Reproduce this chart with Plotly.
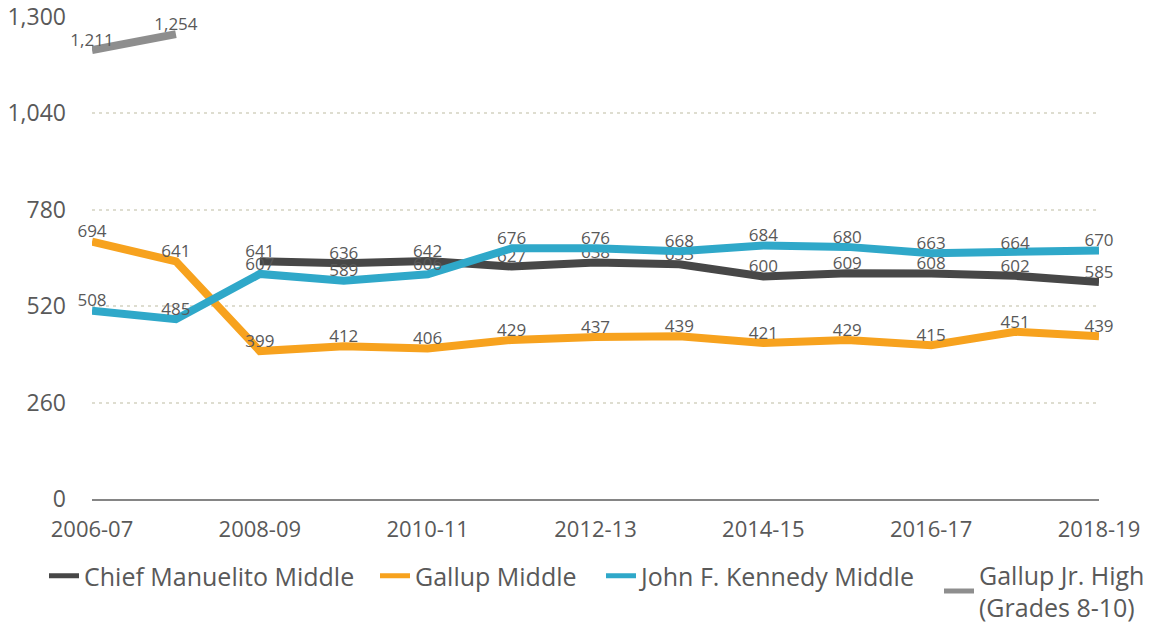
import plotly.graph_objects as go

years = ["2006-07", "2007-08", "2008-09", "2009-10", "2010-11", "2011-12", "2012-13",
         "2013-14", "2014-15", "2015-16", "2016-17", "2017-18", "2018-19"]
chief = [None, None, 641, 636, 642, 627, 638, 633, 600, 609, 608, 602, 585]
gallup_mid = [694, 641, 399, 412, 406, 429, 437, 439, 421, 429, 415, 451, 439]
jfk = [508, 485, 607, 589, 606, 676, 676, 668, 684, 680, 663, 664, 670]
gallup_jr = [1211, 1254, None, None, None, None, None, None, None, None, None, None, None]

x_ticks = ["2006-07", "2008-09", "2010-11", "2012-13", "2014-15", "2016-17", "2018-19"]
y_ticks = [0, 260, 520, 780, 1040, 1300]

FONT = "Open Sans"
TXT = "#595959"

series = [
    ("Chief Manuelito Middle", chief, "#474747", "legend"),
    ("Gallup Middle", gallup_mid, "#F7A21E", "legend2"),
    ("John F. Kennedy Middle", jfk, "#2FA8C9", "legend3"),
    ("Gallup Jr. High<br>(Grades 8-10)", gallup_jr, "#8E8E8E", "legend4"),
]

fig = go.Figure()
for name, vals, color, lg in series:
    fig.add_trace(go.Scatter(
        x=years, y=vals, name=name, mode="lines+text",
        line=dict(color=color, width=8),
        text=[("{:,}".format(v) if v is not None else "") for v in vals],
        textposition="top center",
        textfont=dict(family=FONT, size=17, color=TXT),
        cliponaxis=False, showlegend=False,
    ))
    # legend entry (thinner line like the reference key)
    fig.add_trace(go.Scatter(
        x=[None], y=[None], name=name, mode="lines",
        line=dict(color=color, width=5), legend=lg, showlegend=True,
    ))

W, H = 1155, 623
L, T = 92, 17
pw, ph = 1007, 482
R, B = W - L - pw, H - T - ph

def px(xs):
    return (xs - L) / pw

def py(ys):
    return (T + ph - ys) / ph

leg_common = dict(orientation="h", font=dict(family=FONT, size=25, color=TXT),
                  bgcolor="rgba(0,0,0,0)", yanchor="middle", xanchor="left")

fig.update_layout(
    width=W, height=H,
    margin=dict(l=L, r=R, t=T, b=B, autoexpand=False),
    plot_bgcolor="white", paper_bgcolor="white",
    font=dict(family=FONT, color=TXT),
    legend=dict(x=px(44), y=py(576), **leg_common),
    legend2=dict(x=px(375), y=py(576), **leg_common),
    legend3=dict(x=px(601), y=py(576), **leg_common),
    legend4=dict(x=px(939), y=py(591), **leg_common),
    xaxis=dict(
        type="category", range=[0, 12], automargin=False,
        tickmode="array", tickvals=x_ticks, ticktext=x_ticks,
        showgrid=False, showline=True, linecolor="#858585", linewidth=1.5,
        ticks="", tickfont=dict(family=FONT, size=22, color=TXT),
        ticklabelstandoff=10, zeroline=False, ticklabeloverflow="allow",
    ),
    yaxis=dict(
        range=[0, 1300], tickvals=y_ticks, tickformat=",", automargin=False,
        showgrid=True, gridcolor="#deddd0", griddash="3px,4px", gridwidth=1.5,
        zeroline=False, showline=False, ticks="",
        tickfont=dict(family=FONT, size=23, color=TXT),
        ticklabelstandoff=25, ticklabeloverflow="allow",
    ),
)

fig.write_html("out.html", config={"displayModeBar": False},
               post_script="document.body.style.margin='0px';document.body.style.overflow='hidden';")
